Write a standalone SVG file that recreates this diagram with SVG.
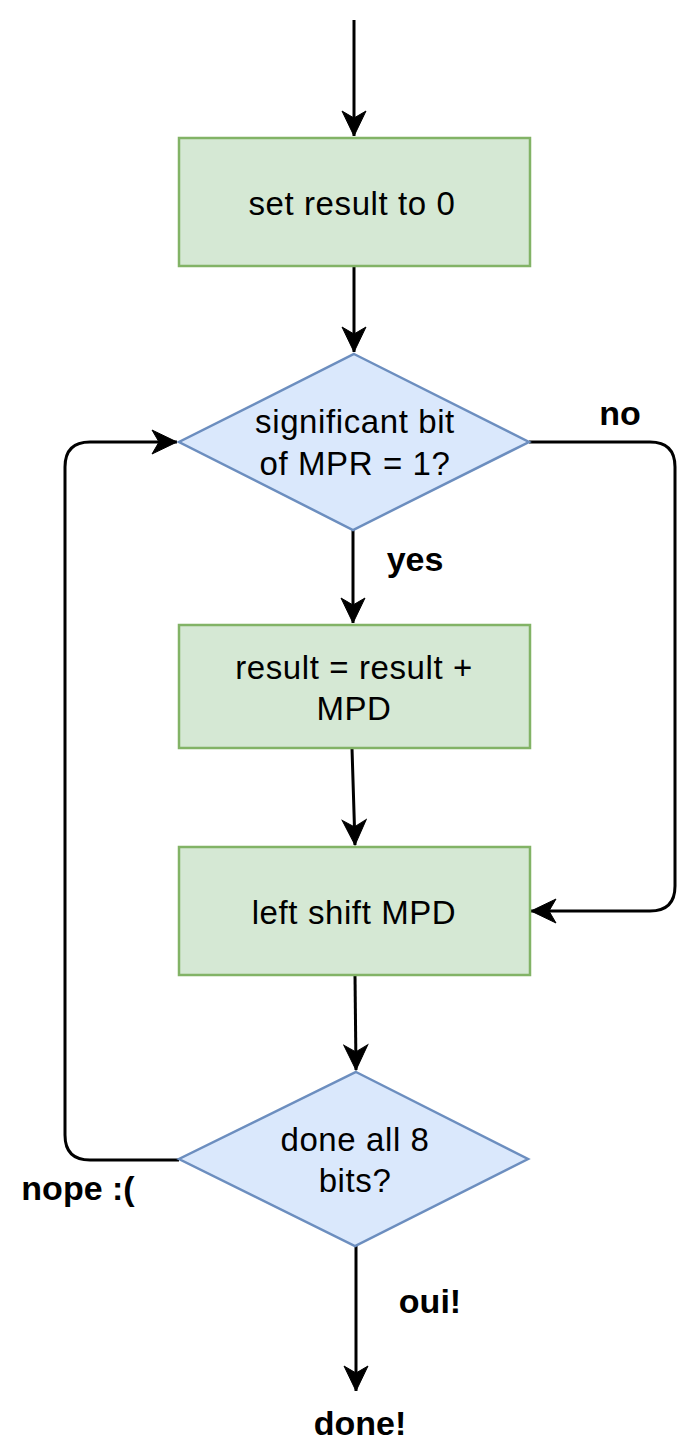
<svg xmlns="http://www.w3.org/2000/svg" width="700" height="1453" viewBox="0 0 700 1453">
  <style>
    .box { fill: #d5e8d4; stroke: #82b366; stroke-width: 2.5; }
    .dia { fill: #dae8fc; stroke: #6c8ebf; stroke-width: 2.5; }
    .t { font-family: "Liberation Sans", Arial, Helvetica, sans-serif; font-size: 33px; fill: #000; text-anchor: middle; letter-spacing: 0.6px; }
    .lbl { font-family: "Liberation Sans", Arial, Helvetica, sans-serif; font-size: 34px; font-weight: bold; fill: #000; text-anchor: middle; }
    .edge { fill: none; stroke: #000; stroke-width: 3; }
  </style>
  <defs>
    <marker id="arrow" markerUnits="userSpaceOnUse" viewBox="-27 -13 28 26" refX="0" refY="0" markerWidth="28" markerHeight="26" orient="auto">
      <path d="M0,0 L-25,-12 L-18,0 L-25,12 Z" fill="#000" stroke="#000" stroke-width="1"/>
    </marker>
  </defs>
  <rect width="700" height="1453" fill="#fff"/>

  <g id="connectors">
    <path class="edge" d="M354,20 L354,136" marker-end="url(#arrow)"/>
    <path class="edge" d="M354,266 L354,352" marker-end="url(#arrow)"/>
    <path class="edge" d="M353,530 L353,623" marker-end="url(#arrow)"/>
    <path class="edge" d="M352,748 L355,845" marker-end="url(#arrow)"/>
    <path class="edge" d="M355,975 L356,1070" marker-end="url(#arrow)"/>
    <path class="edge" d="M356,1246 L356,1391" marker-end="url(#arrow)"/>
    <path class="edge" d="M529,442 L650,442 Q675,442 675,467 L675,886 Q675,911 650,911 L531,911" marker-end="url(#arrow)"/>
    <path class="edge" d="M179,1160 L90,1160 Q65,1160 65,1135 L65,467 Q65,442 90,442 L177,442" marker-end="url(#arrow)"/>
  </g>

  <g id="edge-labels">
    <text class="lbl" x="620" y="425">no</text>
    <text class="lbl" x="415" y="571">yes</text>
    <text class="lbl" x="78" y="1200">nope :(</text>
    <text class="lbl" x="430" y="1313">oui!</text>
    <text class="lbl" x="360" y="1435">done!</text>
  </g>

  <g id="node-set-result">
    <rect class="box" x="179" y="138" width="351" height="128"/>
    <text class="t" x="352" y="215">set result to 0</text>
  </g>

  <g id="node-significant-bit">
    <polygon class="dia" points="354,354 529,442 353,530 179,442"/>
    <text class="t" x="355" y="433">significant bit</text>
    <text class="t" x="355" y="475">of MPR = 1?</text>
  </g>

  <g id="node-add">
    <rect class="box" x="179" y="625" width="351" height="123"/>
    <text class="t" x="354" y="679">result = result +</text>
    <text class="t" x="354" y="720">MPD</text>
  </g>

  <g id="node-shift">
    <rect class="box" x="179" y="847" width="351" height="128"/>
    <text class="t" x="354" y="924">left shift MPD</text>
  </g>

  <g id="node-done-all">
    <polygon class="dia" points="356,1072 528,1159 355,1246 179,1159"/>
    <text class="t" x="355" y="1151">done all 8</text>
    <text class="t" x="355" y="1192">bits?</text>
  </g>
</svg>
